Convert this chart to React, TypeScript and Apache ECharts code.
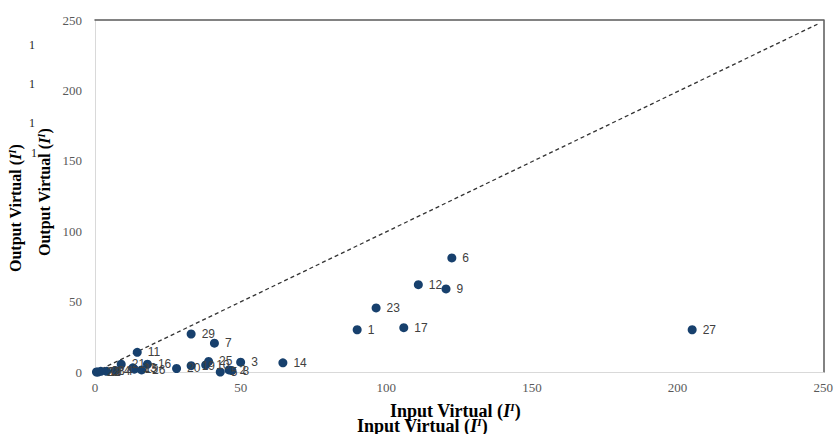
import React, { useEffect, useRef } from "react";
import * as echarts from "echarts";

// DMU labels and their virtual input / output values
const dmuLabels = [
  "1", "2", "3", "4", "5", "6", "7", "8", "9", "10",
  "11", "12", "13", "14", "15", "16", "17", "18", "19", "20",
  "21", "22", "23", "24", "25", "26", "27", "28", "29",
];
const inputVirtual = [
  90, 46, 50, 7, 43, 122.5, 41, 47, 120.5, 38,
  14.5, 111, 13, 64.5, 13.5, 18, 106, 1, 33, 28,
  9, 0.5, 96.5, 4, 39, 16, 205, 2, 33,
];
const outputVirtual = [
  30, 1.5, 7, 1, 0, 81, 20.5, 1, 59, 5,
  14, 62, 3, 6.5, 2, 5.5, 31.5, 0, 4.5, 2.5,
  5.5, 0, 45.5, 0.5, 7.5, 1.5, 30, 0.5, 27,
];
// Reference line (output = input)
const diagonalX = [0, 248];
const diagonalY = [0, 247];

const axisMin = 0;
const axisMax = 250;
const axisStep = 50;

const xTitle = "Input Virtual (";
const yTitle = "Output Virtual (";

function richFor(size: number) {
  const base = { fontFamily: "Liberation Serif", fontWeight: "bold", fontSize: size, color: "#1a1a1a" };
  return {
    b: base,
    i: { ...base, fontStyle: "italic" },
    s: { ...base, fontStyle: "italic", fontSize: Math.round(size * 0.6), padding: [0, 0, Math.round(size * 0.45), 0] },
  };
}

export default function App() {
  const ref = useRef<HTMLDivElement>(null);

  useEffect(() => {
    if (!ref.current) return;
    const chart = echarts.init(ref.current, undefined, { renderer: "svg" });

    const points = dmuLabels.map((id, i) => [inputVirtual[i], outputVirtual[i], id]);
    const diag = diagonalX.map((x, i) => [x, diagonalY[i]]);

    const mk = (t: string) => `{b|${t}}{i|I}{s|I}{b|)}`;
    const tickLabel = { fontFamily: "Liberation Serif", fontSize: 13, color: "#595959" };
    const digit = { text: "1", font: "12px 'Liberation Serif'", fill: "#222222" };

    chart.setOption({
      animation: false,
      backgroundColor: "#ffffff",
      grid: { left: 95, right: 12, top: 20, bottom: 62 },
      xAxis: [
        {
          type: "value", min: axisMin, max: axisMax, interval: axisStep,
          axisLine: { show: true, lineStyle: { color: "#d9d9d9", width: 1 } },
          axisTick: { show: false },
          splitLine: { show: false },
          axisLabel: { ...tickLabel, margin: 9 },
        },
        {
          type: "value", position: "top", min: axisMin, max: axisMax, interval: axisStep,
          axisLine: { show: true, onZero: false, lineStyle: { color: "#595959", width: 1.5 } },
          axisTick: { show: false }, axisLabel: { show: false }, splitLine: { show: false },
        },
      ],
      yAxis: [
        {
          type: "value", min: axisMin, max: axisMax, interval: axisStep,
          axisLine: { show: true, lineStyle: { color: "#d9d9d9", width: 1 } },
          axisTick: { show: false },
          splitLine: { show: false },
          axisLabel: { ...tickLabel, margin: 13 },
        },
        {
          type: "value", position: "right", min: axisMin, max: axisMax, interval: axisStep,
          axisLine: { show: true, onZero: false, lineStyle: { color: "#595959", width: 1.5 } },
          axisTick: { show: false }, axisLabel: { show: false }, splitLine: { show: false },
        },
      ],
      graphic: [
        { type: "text", left: 390, top: 401, style: { text: mk(xTitle), rich: richFor(18) } as any },
        { type: "text", left: 357, top: 416, style: { text: mk(xTitle), rich: richFor(18) } as any },
        { type: "text", x: 7, y: 272, rotation: Math.PI / 2, style: { text: mk(yTitle), rich: richFor(16) } as any },
        { type: "text", x: 36, y: 256, rotation: Math.PI / 2, style: { text: mk(yTitle), rich: richFor(16) } as any },
        { type: "text", x: 29, y: 39, style: digit },
        { type: "text", x: 29, y: 78, style: digit },
        { type: "text", x: 29, y: 117, style: digit },
        { type: "text", x: 31, y: 147, style: digit },
      ],
      series: [
        {
          type: "line",
          data: diag,
          symbol: "none",
          lineStyle: { color: "#333333", width: 1.3, type: [4, 3] },
          silent: true,
          z: 1,
        },
        {
          type: "scatter",
          data: points,
          symbol: "circle",
          symbolSize: 9,
          itemStyle: { color: "#17406d", opacity: 1 },
          label: {
            show: true,
            position: "right",
            distance: 6,
            formatter: (p: any) => p.data[2],
            fontFamily: "Liberation Sans",
            fontSize: 12,
            color: "#404040",
          },
          z: 2,
        },
      ],
    });

    return () => chart.dispose();
  }, []);

  return (
    <div
      ref={ref}
      style={{ position: "absolute", left: 0, top: 0, width: 836, height: 434 }}
    />
  );
}
